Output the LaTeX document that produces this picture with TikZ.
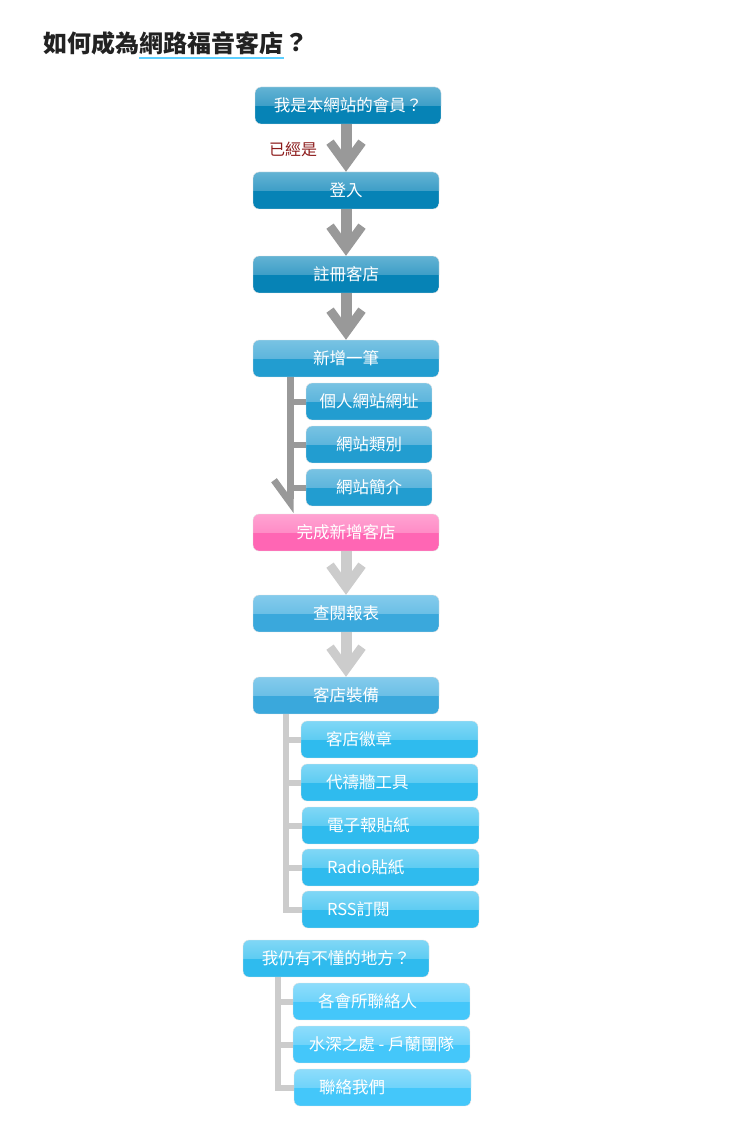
\documentclass[tikz,border=0pt]{standalone}
\usepackage{fontspec}
\usepackage{xcolor}
\usepackage{tikz}
\usetikzlibrary{arrows.meta, calc, positioning}
\newfontfamily\cjk{Noto Sans CJK TC}

\definecolor{tealA}{HTML}{63B3D4}
\definecolor{tealB}{HTML}{3E9EC7}
\definecolor{tealC}{HTML}{0683B6}
\definecolor{midA}{HTML}{78C3E3}
\definecolor{midB}{HTML}{5DB5DC}
\definecolor{midC}{HTML}{229DD0}
\definecolor{pinkA}{HTML}{FFA3D2}
\definecolor{pinkB}{HTML}{FF8CC6}
\definecolor{pinkC}{HTML}{FF66B4}
\definecolor{skyA}{HTML}{84CBEC}
\definecolor{skyB}{HTML}{6BBFE6}
\definecolor{skyC}{HTML}{3AA8DC}
\definecolor{iceA}{HTML}{80D7F6}
\definecolor{iceB}{HTML}{5ECCF2}
\definecolor{iceC}{HTML}{2FBBEE}
\definecolor{aquaA}{HTML}{8EDDFB}
\definecolor{aquaB}{HTML}{6FD3FA}
\definecolor{aquaC}{HTML}{44C7FA}
\definecolor{arrdark}{HTML}{999999}
\definecolor{arrlight}{HTML}{CCCCCC}
\definecolor{yescol}{HTML}{8C1B1B}
\definecolor{titlecol}{HTML}{222222}
\definecolor{ulinecol}{HTML}{5CCFFF}

\begin{document}
\begin{tikzpicture}[
    x=1pt, y=-1pt,
    box/.style = {
        draw=gray!22, rounded corners=6pt,
        minimum width=186pt, minimum height=37pt,
        inner sep=0pt, text=white,
        font=\cjk\fontsize{16.5}{18}\selectfont
    },
    gloss/.style n args = {3}{
        path picture = {
            \fill[#3, sharp corners] (path picture bounding box.south west)
                rectangle (path picture bounding box.east);
            \shade[top color=#1, bottom color=#2, sharp corners]
                (path picture bounding box.north west)
                rectangle (path picture bounding box.east);
        }
    },
    tealbox/.style = {box, gloss={tealA}{tealB}{tealC}},
    midbox/.style  = {box, gloss={midA}{midB}{midC}},
    pinkbox/.style = {box, gloss={pinkA}{pinkB}{pinkC}},
    skybox/.style  = {box, gloss={skyA}{skyB}{skyC}},
    icebox/.style  = {box, gloss={iceA}{iceB}{iceC}},
    aquabox/.style = {box, gloss={aquaA}{aquaB}{aquaC}},
    shortsub/.style = {minimum width=126pt},
    leftsub/.style  = {minimum width=177pt, text width=127pt,
                       inner xsep=25pt, align=left},
    ttl/.style  = {inner sep=0pt, text=titlecol,
                   font=\cjk\bfseries\fontsize{24}{26}\selectfont},
    darr/.style = {line width=11pt, color=arrdark,
        -{Straight Barb[length=22pt, width=32pt, line width=9pt]}},
    larr/.style = {darr, color=arrlight},
    dstem/.style = {line width=7pt, color=arrdark},
    dbranch/.style = {line width=6pt, color=arrdark},
    lbranch/.style = {line width=6pt, color=arrlight}
]
\useasboundingbox (0,0) rectangle (750,1126);

%% ---- TITLE ----
\node[ttl, anchor=west] (ttlA) at (43,43) {如何成為};
\node[ttl, right=0pt of ttlA] (ttlB) {網路福音客店};
\node[ttl, right=0pt of ttlB] (ttlC) {？};
\draw[ulinecol, line width=1.6pt]
    ($(ttlB.south west)+(0,3)$) -- ($(ttlB.south east)+(0,3)$);

%% ---- MAIN STEPS ----
\node[tealbox] (member) at (348,105.5) {我是本網站的會員？};
\node[tealbox] (login)  at (346,190.5) {登入};
\node[tealbox] (reg)    at (346,274.5) {註冊客店};
\node[midbox]  (add)    at (346,358.5) {新增一筆};

\node[text=yescol, font=\cjk\fontsize{16}{18}\selectfont]
    (yes) at (293,149) {已經是};

%% ---- NEW ENTRY ITEMS ----
\node[midbox, shortsub] (url)   at (369,401.5) {個人網站網址};
\node[midbox, shortsub] (cat)   at (369,444.5) {網站類別};
\node[midbox, shortsub] (intro) at (369,487.5) {網站簡介};

\node[pinkbox] (done)   at (346,532.5) {完成新增客店};
\node[skybox]  (report) at (346,613.5) {查閱報表};
\node[skybox]  (equip)  at (346,695.5) {客店裝備};

%% ---- EQUIPMENT ITEMS ----
\node[icebox, leftsub] (badge)  at (389.5,739.5) {客店徽章};
\node[icebox, leftsub] (prayer) at (389.5,782.5) {代禱牆工具};
\node[icebox, leftsub] (news)   at (390.5,825.5) {電子報貼紙};
\node[icebox, leftsub] (radio)  at (390.5,867.5) {Radio貼紙};
\node[icebox, leftsub] (rss)    at (390.5,909.5) {RSS訂閱};

%% ---- HELP ----
\node[icebox] (help) at (336,958.5) {我仍有不懂的地方？};
\node[aquabox, leftsub] (contact) at (381.5,1001.5) {各會所聯絡人};
\node[aquabox, minimum width=177pt] (team) at (381.5,1044.5) {水深之處 - 戶蘭團隊};
\node[aquabox, leftsub] (us) at (382.5,1087.5) {聯絡我們};

%% ---- ARROWS ----
\draw[darr] (member.south -| login.south) -- (login.north);
\draw[darr] (login.south) -- (reg.north);
\draw[darr] (reg.south)   -- (add.north);

\draw[larr] (done.south)   -- (report.north);
\draw[larr] (report.south) -- (equip.north);

%% ---- BRANCHES ----
\coordinate (addstem) at (290,377);
\coordinate (addend)  at (290,513);
\draw[dbranch] (addstem) |- (url.west);
\draw[dbranch] (addstem) |- (cat.west);
\draw[dbranch] (addstem) |- (intro.west);
\draw[dstem, -{Straight Barb[right, length=22pt, width=32pt, line width=7pt]}]
    (addstem) -- (addend);

\coordinate (equipstem) at (285.5,714);
\draw[lbranch] (equipstem) |- (badge.west);
\draw[lbranch] (equipstem) |- (prayer.west);
\draw[lbranch] (equipstem) |- (news.west);
\draw[lbranch] (equipstem) |- (radio.west);
\draw[lbranch] (equipstem) |- (rss.west);

\coordinate (helpstem) at (278,977);
\draw[lbranch] (helpstem) |- (contact.west);
\draw[lbranch] (helpstem) |- (team.west);
\draw[lbranch] (helpstem) |- (us.west);

\end{tikzpicture}
\end{document}
